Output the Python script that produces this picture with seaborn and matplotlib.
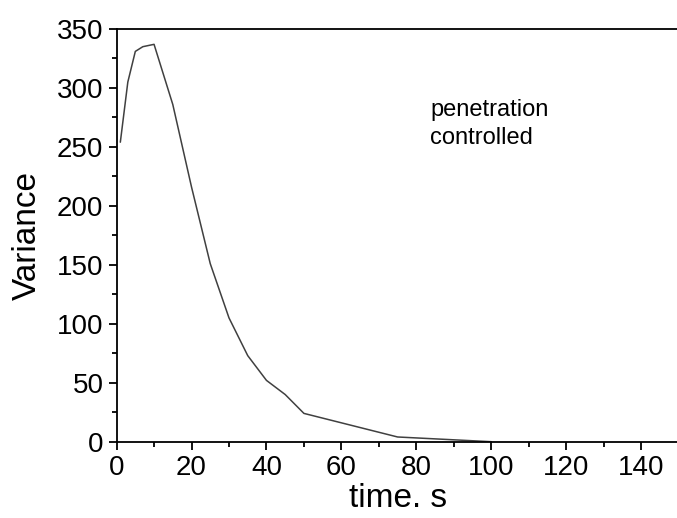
import matplotlib
matplotlib.use("Agg")
import matplotlib.pyplot as plt
from matplotlib.ticker import MultipleLocator
import seaborn as sns
import pandas as pd

# Variance of the signal over time (penetration controlled regime)
time_s = [1, 3, 5, 7, 10, 15, 20, 25, 30, 35, 40, 45, 50, 75, 100]
variance = [254, 305, 331, 335, 337, 286, 216, 151, 105, 73, 52, 40, 24, 4, 0]

x_ticks = [0, 20, 40, 60, 80, 100, 120, 140]
y_ticks = [0, 50, 100, 150, 200, 250, 300, 350]

sns.set_theme(style="ticks")
plt.rcParams["font.family"] = ["Liberation Sans", "DejaVu Sans"]
plt.rcParams["text.color"] = "black"
plt.rcParams["axes.labelcolor"] = "black"

df = pd.DataFrame({"time": time_s, "variance": variance})

fig = plt.figure(figsize=(6.77, 5.18), dpi=100)
ax = fig.add_axes([0.1722, 0.1473, 0.8302, 0.7967])

sns.lineplot(data=df, x="time", y="variance", ax=ax, color="#404040",
             linewidth=1.1, estimator=None, sort=False)

ax.set_xlim(0, 150)
ax.set_ylim(0, 350)
ax.set_xticks(x_ticks)
ax.set_yticks(y_ticks)
ax.xaxis.set_minor_locator(MultipleLocator(10))
ax.yaxis.set_minor_locator(MultipleLocator(25))

for side in ["left", "bottom", "top"]:
    ax.spines[side].set_visible(True)
    ax.spines[side].set_linewidth(1.3)
    ax.spines[side].set_color("black")
ax.spines["right"].set_visible(False)

ax.tick_params(which="major", direction="out", length=6, width=1.3,
               labelsize=20, colors="black", pad=3.5)
ax.tick_params(which="minor", direction="out", length=3.5, width=1.3,
               colors="black")
ax.tick_params(top=False, which="both")

ax.set_xlabel("time. s", fontsize=24, labelpad=1.5)
ax.set_ylabel("Variance", fontsize=24, labelpad=10)

ax.text(83.7, 291, "penetration\ncontrolled", fontsize=17, ha="left",
        va="top", linespacing=1.35, color="black")

fig.savefig("out.png", dpi=100)
